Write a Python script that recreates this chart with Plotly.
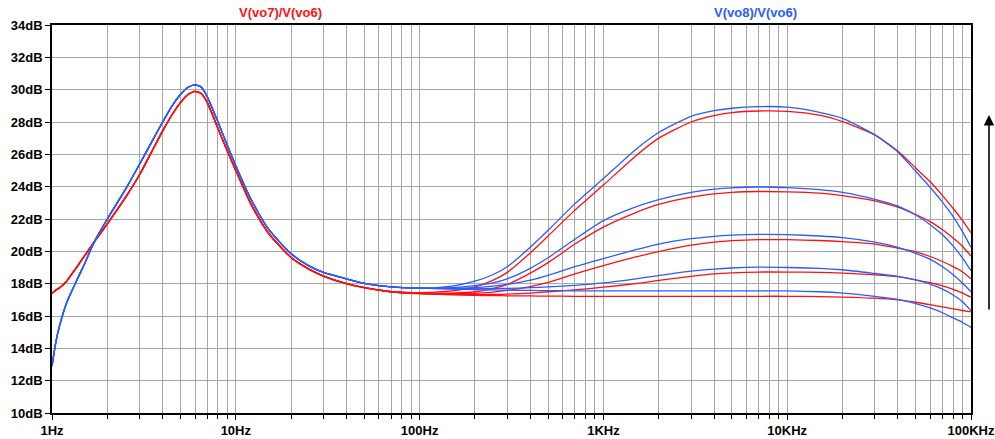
import plotly.graph_objects as go

# ---------------- data ----------------
# shared low-frequency part (all five curves of each family coincide here)
freq_low = [1, 1.05, 1.1, 1.2, 1.35, 1.5, 1.7, 2, 2.5, 3, 3.5, 4, 4.5, 5,
            5.5, 6, 6.5, 7, 8, 9, 10, 12, 15, 20, 25, 30, 40, 50, 70]
red_low = [17.4, 17.6, 17.75, 18.15, 18.95, 19.7, 20.6, 21.7, 23.3, 24.75,
           26.2, 27.45, 28.45, 29.2, 29.7, 29.9, 29.75, 29.2, 27.6, 26.2,
           25.0, 23.0, 21.15, 19.62, 18.9, 18.47, 18.0, 17.75, 17.5]
blue_low = [12.9, 14.4, 15.4, 16.8, 18.1, 19.2, 20.6, 22.0, 23.8, 25.4, 26.8,
            28.0, 29.0, 29.7, 30.15, 30.3, 30.15, 29.55, 28.0, 26.55, 25.3,
            23.3, 21.4, 19.85, 19.1, 18.7, 18.3, 18.02, 17.8]

# high-frequency part, five curves per family
freq_high = [100, 150, 200, 250, 300, 400, 500, 700, 1000, 1500, 2000, 3000,
             4000, 5000, 7000, 10000, 15000, 20000, 30000, 40000, 50000,
             60000, 70000, 80000, 90000, 100000]
red_high = [
    [17.45, 17.55, 17.8, 18.2, 18.7, 19.9, 20.95, 22.55, 24.1, 25.9, 27.0,
     28.0, 28.4, 28.58, 28.68, 28.66, 28.42, 28.02, 27.2, 26.2, 25.15, 24.3,
     23.45, 22.65, 21.9, 21.15],
    [17.42, 17.42, 17.5, 17.7, 17.95, 18.65, 19.3, 20.45, 21.5, 22.4, 22.9,
     23.35, 23.55, 23.65, 23.7, 23.68, 23.6, 23.45, 23.12, 22.73, 22.28,
     21.84, 21.33, 20.82, 20.3, 19.7],
    [17.4, 17.38, 17.4, 17.48, 17.58, 17.82, 18.08, 18.6, 19.12, 19.65,
     19.98, 20.38, 20.57, 20.66, 20.72, 20.72, 20.67, 20.6, 20.45, 20.2,
     19.97, 19.68, 19.37, 19.05, 18.72, 18.3],
    [17.38, 17.33, 17.32, 17.33, 17.35, 17.42, 17.5, 17.62, 17.78, 18.0,
     18.2, 18.45, 18.6, 18.67, 18.72, 18.72, 18.7, 18.65, 18.55, 18.43,
     18.24, 18.06, 17.86, 17.65, 17.42, 17.16],
    [17.38, 17.32, 17.28, 17.26, 17.25, 17.24, 17.23, 17.22, 17.22, 17.22,
     17.22, 17.22, 17.22, 17.22, 17.22, 17.22, 17.2, 17.17, 17.1, 17.0,
     16.85, 16.7, 16.56, 16.44, 16.34, 16.25],
]
blue_high = [
    [17.72, 17.85, 18.15, 18.55, 19.05, 20.25, 21.3, 22.95, 24.5, 26.3,
     27.35, 28.35, 28.7, 28.85, 28.95, 28.92, 28.6, 28.23, 27.2, 26.15,
     24.95, 23.95, 23.05, 22.15, 21.2, 20.25],
    [17.72, 17.75, 17.88, 18.05, 18.3, 18.95, 19.6, 20.75, 21.9, 22.75,
     23.2, 23.65, 23.85, 23.93, 23.98, 23.94, 23.82, 23.65, 23.22, 22.8,
     22.25, 21.65, 21.02, 20.32, 19.58, 18.8],
    [17.72, 17.72, 17.76, 17.85, 17.95, 18.22, 18.52, 19.05, 19.55, 20.1,
     20.45, 20.78, 20.93, 21.0, 21.05, 21.03, 20.95, 20.85, 20.57, 20.25,
     19.88, 19.5, 19.05, 18.55, 18.03, 17.5],
    [17.72, 17.7, 17.69, 17.7, 17.71, 17.75, 17.8, 17.9, 18.05, 18.3, 18.5,
     18.77, 18.9, 18.97, 19.02, 19.0, 18.95, 18.86, 18.63, 18.45, 18.23,
     17.97, 17.66, 17.3, 16.88, 16.33],
    [17.72, 17.67, 17.63, 17.61, 17.6, 17.58, 17.57, 17.56, 17.55, 17.55,
     17.55, 17.55, 17.55, 17.55, 17.55, 17.55, 17.5, 17.42, 17.22, 17.03,
     16.77, 16.5, 16.2, 15.88, 15.6, 15.3],
]

x_tickvals = [1, 10, 100, 1000, 10000, 100000]
x_ticktext = ["1Hz", "10Hz", "100Hz", "1KHz", "10KHz", "100KHz"]
y_tickvals = list(range(10, 35, 2))
y_ticktext = [f"{v}dB" for v in y_tickvals]

title_red = "V(vo7)/V(vo6)"
title_blue = "V(vo8)/V(vo6)"

# ---------------- styling ----------------
RED = "#ff1010"
BLUE = "#2a5cff"
GRID = "#a8a8a8"
FONT = "Liberation Sans"

fig = go.Figure()
for k in range(5):
    fig.add_trace(go.Scatter(
        x=freq_low + freq_high, y=red_low + red_high[k], mode="lines",
        line=dict(color=RED, width=1.3, shape="spline", smoothing=0.6),
        hoverinfo="skip", showlegend=False))
for k in range(5):
    fig.add_trace(go.Scatter(
        x=freq_low + freq_high, y=blue_low + blue_high[k], mode="lines",
        line=dict(color=BLUE, width=1.3, shape="spline", smoothing=0.6),
        hoverinfo="skip", showlegend=False))

minor_vals = [m * 10 ** d for d in range(5) for m in range(2, 10)]

fig.update_layout(
    width=995, height=439,
    margin=dict(l=52, r=24, t=25, b=26),
    paper_bgcolor="white", plot_bgcolor="white",
    font=dict(family=FONT, size=13, color="black"),
    showlegend=False,
    xaxis=dict(
        type="log", range=[0, 5], automargin=False,
        tickvals=x_tickvals, ticktext=x_ticktext,
        tickfont=dict(family=FONT, size=13, color="black", weight="bold"),
        showgrid=True, gridcolor=GRID, gridwidth=1,
        ticks="outside", ticklen=5, tickcolor="black",
        minor=dict(tickvals=minor_vals, showgrid=True, gridcolor=GRID,
                   gridwidth=1, ticks="outside", ticklen=4,
                   tickcolor="black"),
        showline=True, linecolor="black", linewidth=1.5, mirror=True,
        zeroline=False,
    ),
    yaxis=dict(
        range=[10, 34], automargin=False,
        tickvals=y_tickvals, ticktext=y_ticktext,
        tickfont=dict(family=FONT, size=13, color="black", weight="bold"),
        showgrid=True, gridcolor=GRID, gridwidth=1,
        ticks="outside", ticklen=5, tickcolor="black",
        showline=True, linecolor="black", linewidth=1.5, mirror=True,
        zeroline=False,
    ),
    annotations=[
        dict(text=title_red, xref="paper", yref="paper",
             x=(280 - 52) / 919, y=1.0, yanchor="bottom", xanchor="center",
             yshift=3, showarrow=False,
             font=dict(family=FONT, size=13, color=RED, weight="bold")),
        dict(text=title_blue, xref="paper", yref="paper",
             x=(755 - 52) / 919, y=1.0, yanchor="bottom", xanchor="center",
             yshift=3, showarrow=False,
             font=dict(family=FONT, size=13, color=BLUE, weight="bold")),
        dict(text="", xref="paper", yref="paper",
             x=(989 - 52) / 919, y=(413 - 115) / 388,
             ax=0, ay=196, showarrow=True, arrowhead=2, arrowsize=1.3,
             arrowwidth=1.6, arrowcolor="black"),
    ],
)

fig.write_html("out.html")
